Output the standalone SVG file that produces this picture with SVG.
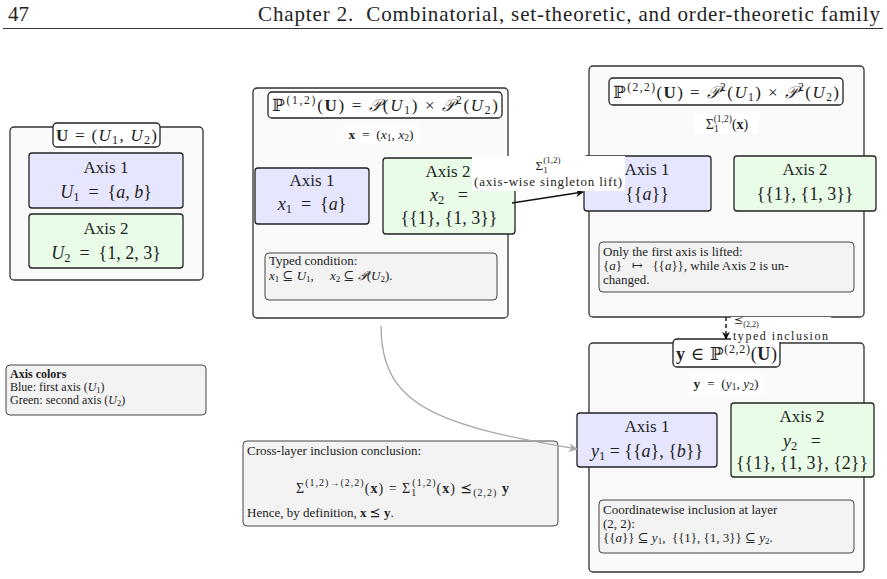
<svg xmlns="http://www.w3.org/2000/svg" width="887" height="579" viewBox="0 0 887 579" font-family="'Liberation Serif','DejaVu Serif','DejaVu Sans',serif">
<defs>
<style>
text{font-family:"Liberation Serif","DejaVu Serif","DejaVu Sans",serif;fill:#222;}
.c{text-anchor:middle;}
.i{font-style:italic;}
.b{font-weight:bold;}
.outer{fill:#fafafa;stroke:#333;stroke-width:1.3;}
.ttl{fill:#fff;stroke:#222;stroke-width:1.3;}
.blue{fill:#e6e6ff;stroke:#222;stroke-width:1.3;}
.green{fill:#e8fce8;stroke:#222;stroke-width:1.3;}
.note{fill:#f3f3f3;stroke:#444;stroke-width:1;}
.ax{font-size:17px;}
.mt{font-size:18px;}
.sm{font-size:13px;}
</style>
<marker id="ah" viewBox="0 0 10 10" refX="9" refY="5" markerWidth="8" markerHeight="8" markerUnits="userSpaceOnUse" orient="auto"><path d="M0,0 L10,5 L0,10 L3,5 Z" fill="#111"/></marker>
<marker id="ahg" viewBox="0 0 10 10" refX="9" refY="5" markerWidth="9" markerHeight="9" markerUnits="userSpaceOnUse" orient="auto"><path d="M0,0 L10,5 L0,10 L3,5 Z" fill="#aaa"/></marker>
</defs>
<rect width="887" height="579" fill="#fff"/>

<g id="header">
<text x="8" y="21" font-size="21">47</text>
<text x="258" y="21" font-size="21" textLength="622" lengthAdjust="spacing">Chapter 2.&#160; Combinatorial, set-theoretic, and order-theoretic family</text>
<line x1="3" y1="28.5" x2="883" y2="28.5" stroke="#333" stroke-width="1"/>
</g>

<g id="universe">
<rect class="outer" x="10" y="127" width="193" height="153" rx="4"/>
<rect class="ttl" x="53" y="123" width="107" height="24" rx="4"/>
<text x="56" y="141" font-size="17" textLength="101" lengthAdjust="spacing"><tspan class="b">U</tspan> = (<tspan class="i">U</tspan><tspan font-size="12" dy="3">1</tspan><tspan dy="-3">, </tspan><tspan class="i">U</tspan><tspan font-size="12" dy="3">2</tspan><tspan dy="-3">)</tspan></text>
<g id="u-axis1">
<rect class="blue" x="29" y="153" width="154" height="55" rx="3"/>
<text class="c ax" x="106" y="173">Axis 1</text>
<text class="c mt" x="106" y="198"><tspan class="i">U</tspan><tspan font-size="12.5" dy="3">1</tspan><tspan dy="-3">&#160; = &#160;{</tspan><tspan class="i">a</tspan>, <tspan class="i">b</tspan>}</text>
</g>
<g id="u-axis2">
<rect class="green" x="29" y="214" width="154" height="54" rx="3"/>
<text class="c ax" x="106" y="234">Axis 2</text>
<text class="c mt" x="106" y="259"><tspan class="i">U</tspan><tspan font-size="12.5" dy="3">2</tspan><tspan dy="-3">&#160; = &#160;{1, 2, 3}</tspan></text>
</g>
</g>

<g id="legend">
<rect class="note" x="6" y="365" width="200" height="50" rx="4"/>
<text x="10" y="378" font-size="12" class="b">Axis colors</text>
<text x="10" y="391" font-size="12">Blue: first axis (<tspan class="i">U</tspan><tspan font-size="8.5" dy="1.5">1</tspan><tspan dy="-1.5">)</tspan></text>
<text x="10" y="404" font-size="12">Green: second axis (<tspan class="i">U</tspan><tspan font-size="8.5" dy="1.5">2</tspan><tspan dy="-1.5">)</tspan></text>
</g>

<g id="layer12">
<rect class="outer" x="253" y="88" width="255" height="230" rx="4"/>
<rect class="ttl" x="268" y="92" width="234" height="26" rx="4"/>
<text x="272" y="111" font-size="17" textLength="226" lengthAdjust="spacing">ℙ<tspan font-size="11.5" dy="-7">(1,2)</tspan><tspan dy="7">(</tspan><tspan class="b">U</tspan>) = <tspan class="i">𝒫</tspan>(<tspan class="i">U</tspan><tspan font-size="11.5" dy="3">1</tspan><tspan dy="-3">) × </tspan><tspan class="i">𝒫</tspan><tspan font-size="11.5" dy="-7">2</tspan><tspan dy="7">(</tspan><tspan class="i">U</tspan><tspan font-size="11.5" dy="3">2</tspan><tspan dy="-3">)</tspan></text>
<rect x="343" y="126" width="76" height="17" fill="#fff"/>
<text class="c" x="381" y="139" font-size="13.5"><tspan class="b">x</tspan>&#160; = &#160;(<tspan class="i">x</tspan><tspan font-size="9.5" dy="2">1</tspan><tspan dy="-2">, </tspan><tspan class="i">x</tspan><tspan font-size="9.5" dy="2">2</tspan><tspan dy="-2">)</tspan></text>
<g id="x-axis1">
<rect class="blue" x="255" y="168" width="114" height="56" rx="3"/>
<text class="c ax" x="312" y="186">Axis 1</text>
<text class="c mt" x="312" y="210"><tspan class="i">x</tspan><tspan font-size="12.5" dy="3">1</tspan><tspan dy="-3">&#160; = &#160;{</tspan><tspan class="i">a</tspan>}</text>
</g>
<g id="x-axis2">
<rect class="green" x="383" y="158" width="132" height="76" rx="3"/>
<text class="c ax" x="448" y="177">Axis 2</text>
<text class="c mt" x="449" y="201"><tspan class="i">x</tspan><tspan font-size="12.5" dy="3">2</tspan><tspan dy="-3">&#160;&#160; =</tspan></text>
<text class="c mt" x="449" y="224">{{1}, {1, 3}}</text>
</g>
<g id="x-note">
<rect class="note" x="265" y="253" width="232" height="47" rx="4"/>
<text class="sm" x="269" y="265">Typed condition:</text>
<text class="sm" x="269" y="280"><tspan class="i">x</tspan><tspan font-size="9" dy="2">1</tspan><tspan dy="-2"> ⊆ </tspan><tspan class="i">U</tspan><tspan font-size="9" dy="2">1</tspan><tspan dy="-2">,&#160;&#160;&#160;&#160; </tspan><tspan class="i">x</tspan><tspan font-size="9" dy="2">2</tspan><tspan dy="-2"> ⊆ </tspan><tspan class="i">𝒫</tspan>(<tspan class="i">U</tspan><tspan font-size="9" dy="2">2</tspan><tspan dy="-2">).</tspan></text>
</g>
</g>

<g id="layer22-lift">
<rect class="outer" x="589" y="66" width="275" height="251" rx="4"/>
<rect class="ttl" x="609" y="78" width="234" height="27" rx="4"/>
<text x="613" y="98" font-size="17" textLength="226" lengthAdjust="spacing">ℙ<tspan font-size="11.5" dy="-7">(2,2)</tspan><tspan dy="7">(</tspan><tspan class="b">U</tspan>) = <tspan class="i">𝒫</tspan><tspan font-size="11.5" dy="-7">2</tspan><tspan dy="7">(</tspan><tspan class="i">U</tspan><tspan font-size="11.5" dy="3">1</tspan><tspan dy="-3">) × </tspan><tspan class="i">𝒫</tspan><tspan font-size="11.5" dy="-7">2</tspan><tspan dy="7">(</tspan><tspan class="i">U</tspan><tspan font-size="11.5" dy="3">2</tspan><tspan dy="-3">)</tspan></text>
<rect x="695" y="113" width="64" height="21" fill="#fff"/>
<text class="c" x="727" y="129" font-size="14">Σ<tspan font-size="9.5" dy="3">1</tspan><tspan font-size="9.5" dx="-5" dy="-10">(1,2)</tspan><tspan dy="7">(</tspan><tspan class="b">x</tspan>)</text>
<g id="l-axis1">
<rect class="blue" x="584" y="156" width="127" height="55" rx="3"/>
<text class="c ax" x="647" y="175">Axis 1</text>
<text class="c mt" x="647" y="200">{{<tspan class="i">a</tspan>}}</text>
</g>
<g id="l-axis2">
<rect class="green" x="734" y="156" width="142" height="55" rx="3"/>
<text class="c ax" x="805" y="175">Axis 2</text>
<text class="c mt" x="805" y="200">{{1}, {1, 3}}</text>
</g>
<g id="l-note">
<rect class="note" x="599" y="242" width="255" height="50" rx="4"/>
<text class="sm" x="603" y="256">Only the first axis is lifted:</text>
<text class="sm" x="603" y="270">{<tspan class="i">a</tspan>}&#160;&#160; ↦ &#160;&#160;{{<tspan class="i">a</tspan>}}, while Axis 2 is un-</text>
<text class="sm" x="603" y="284">changed.</text>
</g>
</g>

<g id="layer22-y">
<rect class="outer" x="589" y="343" width="275" height="229" rx="4"/>
<rect class="ttl" x="673" y="339" width="107" height="28" rx="4"/>
<text x="676" y="360" font-size="18" textLength="101" lengthAdjust="spacing"><tspan class="b">y</tspan> ∈ ℙ<tspan font-size="12" dy="-7">(2,2)</tspan><tspan dy="7">(</tspan><tspan class="b">U</tspan>)</text>
<rect x="688" y="375" width="76" height="18" fill="#fff"/>
<text class="c" x="726" y="388" font-size="13.5"><tspan class="b">y</tspan>&#160; = &#160;(<tspan class="i">y</tspan><tspan font-size="9.5" dy="2">1</tspan><tspan dy="-2">, </tspan><tspan class="i">y</tspan><tspan font-size="9.5" dy="2">2</tspan><tspan dy="-2">)</tspan></text>
<g id="y-axis1">
<rect class="blue" x="577" y="413" width="140" height="54" rx="3"/>
<text class="c ax" x="647" y="432">Axis 1</text>
<text class="c mt" x="647" y="457"><tspan class="i">y</tspan><tspan font-size="12.5" dy="3">1</tspan><tspan dy="-3"> = {{</tspan><tspan class="i">a</tspan>}, {<tspan class="i">b</tspan>}}</text>
</g>
<g id="y-axis2">
<rect class="green" x="731" y="403" width="143" height="74" rx="3"/>
<text class="c ax" x="802" y="422">Axis 2</text>
<text class="c mt" x="802" y="447"><tspan class="i">y</tspan><tspan font-size="12.5" dy="3">2</tspan><tspan dy="-3">&#160;&#160; =</tspan></text>
<text class="c mt" x="802" y="469">{{1}, {1, 3}, {2}}</text>
</g>
<g id="y-note">
<rect class="note" x="599" y="500" width="255" height="53" rx="4"/>
<text class="sm" x="603" y="514">Coordinatewise inclusion at layer</text>
<text class="sm" x="603" y="528">(2, 2):</text>
<text class="sm" x="603" y="542">{{<tspan class="i">a</tspan>}} ⊆ <tspan class="i">y</tspan><tspan font-size="9" dy="2">1</tspan><tspan dy="-2">,&#160; {{1}, {1, 3}} ⊆ </tspan><tspan class="i">y</tspan><tspan font-size="9" dy="2">2</tspan><tspan dy="-2">.</tspan></text>
</g>
</g>

<g id="conclusion">
<rect class="note" x="243" y="441" width="315" height="85" rx="4"/>
<text class="sm" x="247" y="455">Cross-layer inclusion conclusion:</text>
<text x="296" y="493" font-size="14" textLength="213" lengthAdjust="spacing">Σ<tspan font-size="10" dy="-7">(1,2)→(2,2)</tspan><tspan dy="7">(</tspan><tspan class="b">x</tspan>) = Σ<tspan font-size="10" dy="3">1</tspan><tspan font-size="10" dx="-5" dy="-10">(1,2)</tspan><tspan dy="7">(</tspan><tspan class="b">x</tspan>) ⪯<tspan font-size="10" dy="3">(2,2)</tspan><tspan dy="-3"> </tspan><tspan class="b">y</tspan></text>
<text class="sm" x="247" y="517">Hence, by definition, <tspan class="b">x</tspan> ⪯ <tspan class="b">y</tspan>.</text>
</g>

<g id="connectors">
<path d="M381,326 C381,405 435,425 577,449" fill="none" stroke="#aaa" stroke-width="1.3" marker-end="url(#ahg)"/>
<line x1="512" y1="203" x2="583" y2="192" stroke="#111" stroke-width="1.4" marker-end="url(#ah)"/>
<rect x="472" y="156" width="153" height="35" fill="#fff"/>
<text class="c" x="548" y="170" font-size="13">Σ<tspan font-size="9" dy="2.5">1</tspan><tspan font-size="9" dx="-4.5" dy="-9.5">(1,2)</tspan></text>
<text x="474" y="186" font-size="13" textLength="148" lengthAdjust="spacing">(axis-wise singleton lift)</text>
<line x1="726" y1="317" x2="726" y2="339" stroke="#111" stroke-width="1.4" stroke-dasharray="4,3" marker-end="url(#ah)"/>
<rect x="731" y="317" width="100" height="25" fill="#fff"/>
<text x="734" y="324" font-size="11">⪯<tspan font-size="8" dy="2.5">(2,2)</tspan></text>
<text x="733" y="339.5" font-size="12" textLength="95" lengthAdjust="spacing">typed inclusion</text>
</g>
</svg>
